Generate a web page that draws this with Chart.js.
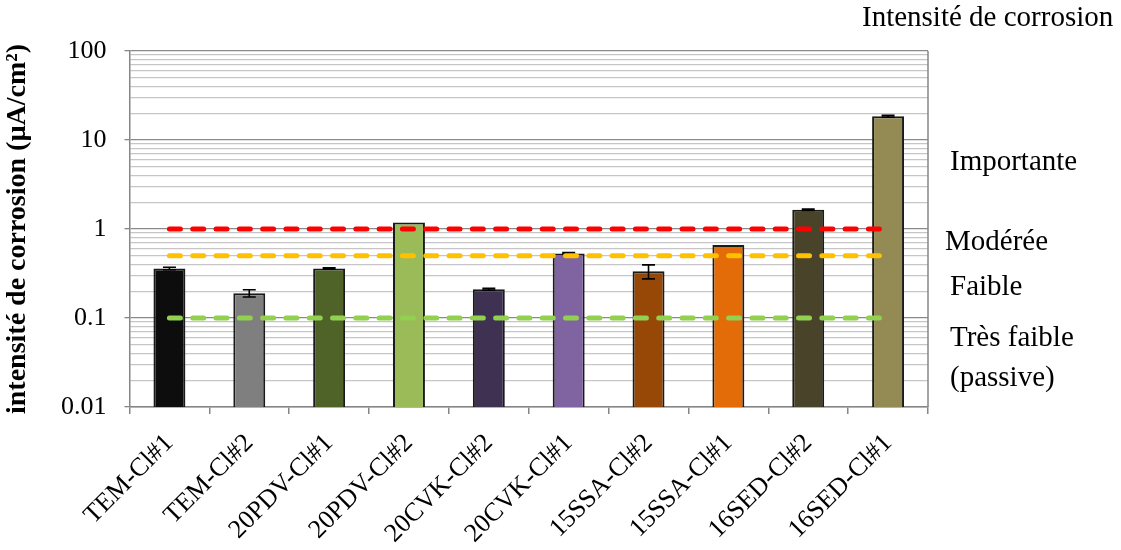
<!DOCTYPE html>
<html>
<head>
<meta charset="utf-8">
<script src="https://cdn.jsdelivr.net/npm/chart.js@4/dist/chart.umd.min.js"></script>
<style>
  html, body { margin: 0; padding: 0; background: #fff; }
  #wrap { width: 1121px; height: 550px; }
</style>
</head>
<body>
<div id="wrap"><canvas id="corrosionChart" width="1121" height="550"></canvas></div>
<script>
const samples = ['TEM-Cl#1', 'TEM-Cl#2', '20PDV-Cl#1', '20PDV-Cl#2', '20CVK-Cl#2', '20CVK-Cl#1', '15SSA-Cl#2', '15SSA-Cl#1', '16SED-Cl#2', '16SED-Cl#1'];
const icorr = [0.36, 0.19, 0.36, 1.18, 0.21, 0.53, 0.335, 0.66, 1.65, 18.5];
const icorrErr = [0.012, 0.018, 0.006, 0, 0.005, 0.012, 0.06, 0, 0.03, 0.45];
const barColors = ['#0d0d0d', '#7f7f7f', '#4f6228', '#9bbb59', '#3f3151', '#8064a2', '#974806', '#e36c09', '#494429', '#948a54'];

// seuils d'intensité de corrosion
const seuilModeree = [1, 1, 1, 1, 1, 1, 1, 1, 1, 1];
const seuilFaible = [0.5, 0.5, 0.5, 0.5, 0.5, 0.5, 0.5, 0.5, 0.5, 0.5];
const seuilTresFaible = [0.1, 0.1, 0.1, 0.1, 0.1, 0.1, 0.1, 0.1, 0.1, 0.1];

const yTickValues = [0.01, 0.02, 0.03, 0.04, 0.05, 0.06, 0.07, 0.08, 0.09,
  0.1, 0.2, 0.3, 0.4, 0.5, 0.6, 0.7, 0.8, 0.9,
  1, 2, 3, 4, 5, 6, 7, 8, 9,
  10, 20, 30, 40, 50, 60, 70, 80, 90, 100];
const yTickLabels = ['0.01', '0.1', '1', '10', '100'];

const zoneLabels = ['Importante', 'Modérée', 'Faible', 'Très faible', '(passive)'];
const zoneValues = [5.6, 0.71, 0.22, 0.059, 0.021];

const serif = '"Liberation Serif", "Times New Roman", serif';

function isMajor(v) {
  const l = Math.log10(v);
  return Math.abs(l - Math.round(l)) < 1e-9;
}

const errorBars = {
  id: 'errorBars',
  afterDatasetDraw(chart, args) {
    if (args.index !== 0) return;
    const ctx = chart.ctx;
    const y = chart.scales.y;
    const meta = chart.getDatasetMeta(0);
    ctx.save();
    ctx.strokeStyle = '#000';
    ctx.lineWidth = 1.6;
    meta.data.forEach((bar, i) => {
      const e = icorrErr[i];
      if (!e) return;
      const top = y.getPixelForValue(icorr[i] + e);
      const bot = y.getPixelForValue(icorr[i] - e);
      const x = bar.x;
      ctx.beginPath();
      ctx.moveTo(x, top); ctx.lineTo(x, bot);
      ctx.moveTo(x - 6.5, top); ctx.lineTo(x + 6.5, top);
      ctx.moveTo(x - 6.5, bot); ctx.lineTo(x + 6.5, bot);
      ctx.stroke();
    });
    ctx.restore();
  }
};

const sideText = {
  id: 'sideText',
  afterDraw(chart) {
    const ctx = chart.ctx;
    const area = chart.chartArea;
    const y = chart.scales.y;
    ctx.save();
    // bord droit du cadre
    ctx.strokeStyle = '#868686';
    ctx.lineWidth = 1.5;
    ctx.beginPath();
    ctx.moveTo(area.right, area.top);
    ctx.lineTo(area.right, area.bottom);
    ctx.stroke();

    ctx.fillStyle = '#000';
    ctx.font = '29px ' + serif;
    ctx.textBaseline = 'middle';
    ctx.textAlign = 'left';
    ctx.fillText('Intensité de corrosion', 862, 18);
    zoneLabels.forEach((txt, i) => {
      const dx = txt === 'Modérée' ? 945 : 950;
      ctx.fillText(txt, dx, y.getPixelForValue(zoneValues[i]));
    });
    ctx.restore();
  }
};

function seuilDataset(label, data, color) {
  return {
    type: 'line',
    label,
    data,
    borderColor: color,
    borderWidth: 5,
    borderDash: [11, 12.3],
    borderCapStyle: 'round',
    pointRadius: 0,
    fill: false,
    order: 0
  };
}

new Chart(document.getElementById('corrosionChart'), {
  type: 'bar',
  data: {
    labels: samples,
    datasets: [
      {
        label: 'icorr',
        data: icorr,
        backgroundColor: barColors,
        borderColor: '#1a1a1a',
        borderWidth: 2,
        barPercentage: 0.4,
        categoryPercentage: 1,
        order: 1
      },
      seuilDataset('Modérée', seuilModeree, '#ff0000'),
      seuilDataset('Faible', seuilFaible, '#ffc000'),
      seuilDataset('Très faible', seuilTresFaible, '#92d050')
    ]
  },
  options: {
    responsive: false,
    animation: false,
    layout: { padding: { top: 51, right: 193, left: 0, bottom: 0 } },
    plugins: {
      legend: { display: false },
      tooltip: { enabled: false }
    },
    scales: {
      x: {
        offset: true,
        grid: {
          offset: true,
          drawOnChartArea: false,
          color: '#868686',
          tickLength: 7,
          lineWidth: 1.5
        },
        border: { color: '#868686', width: 1.5 },
        ticks: {
          font: { family: serif, size: 26 },
          color: '#000',
          minRotation: 45,
          maxRotation: 45,
          autoSkip: false,
          padding: 14
        },
        afterFit(scale) { scale.height = 143; }
      },
      y: {
        type: 'logarithmic',
        min: 0.01,
        max: 100,
        afterBuildTicks(scale) {
          scale.ticks = yTickValues.map(v => ({ value: v, major: isMajor(v) }));
        },
        grid: {
          color: c => (c.tick && isMajor(c.tick.value)) ? '#8a8a8a' : '#c6c6c6',
          tickColor: c => (c.tick && isMajor(c.tick.value)) ? '#868686' : 'rgba(0,0,0,0)',
          lineWidth: 1.3,
          tickLength: 5
        },
        border: { color: '#868686', width: 1.5 },
        ticks: {
          autoSkip: false,
          font: { family: serif, size: 26 },
          color: '#000',
          padding: 18,
          callback: v => {
            const lbl = String(Number(v.toPrecision(3)));
            return yTickLabels.includes(lbl) ? lbl : '';
          }
        },
        title: {
          display: true,
          text: 'intensité de corrosion (µA/cm²)',
          font: { family: serif, size: 28, weight: 'bold' },
          color: '#000',
          padding: { top: 1, bottom: 0 }
        },
        afterFit(scale) { scale.width = 129.5; }
      }
    }
  },
  plugins: [errorBars, sideText]
});
</script>
</body>
</html>
